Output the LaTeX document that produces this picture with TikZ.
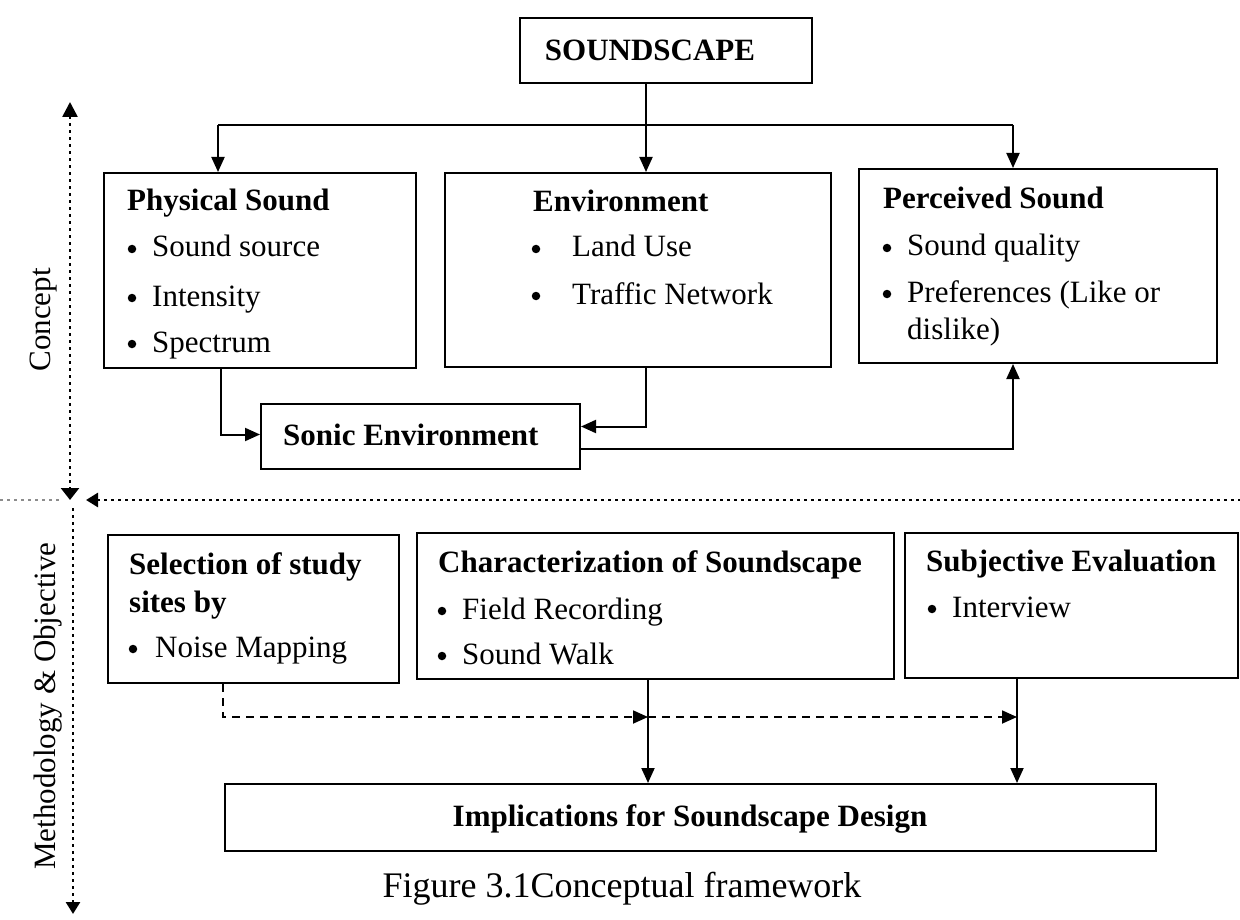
\documentclass[tikz,border=0pt]{standalone}
\usepackage{fontspec}
\setmainfont{Liberation Serif}
\usetikzlibrary{arrows.meta}
% bullet item: name, bullet x, text x, baseline y, text
\newcommand\bitem[5]{%
  \node[dotmark] (#1b) at (#2,#4-8) {};
  \node[txt, anchor=base west] (#1) at (#3,#4) {#5};}
\begin{document}
\begin{tikzpicture}[x=1pt,y=-1pt,
  every node/.style={inner sep=0pt},
  txt/.style={font=\fontsize{31}{37}\selectfont},
  hd/.style={font=\fontsize{31}{37}\selectfont\bfseries},
  dotmark/.style={circle, fill, minimum size=8.5pt},
  box/.style={draw, line width=2pt, anchor=north west},
  conn/.style={line width=2pt},
  tip/.style={-{Triangle[length=15pt,width=13pt]}},
  dotline/.style={line width=2.6pt, dash pattern=on 2.6pt off 4.4pt},
  dashline/.style={line width=1.8pt, dash pattern=on 8pt off 6pt},
]
\useasboundingbox (0,0) rectangle (1240,920);

% ---- boxes
\node[box, minimum width=292pt, minimum height=65pt]  (sc)    at (519,17)  {};
\node[box, minimum width=312pt, minimum height=195pt] (phys)  at (103,172) {};
\node[box, minimum width=386pt, minimum height=194pt] (env)   at (444,172) {};
\node[box, minimum width=358pt, minimum height=194pt] (perc)  at (858,168) {};
\node[box, minimum width=319pt, minimum height=65pt]  (sonic) at (260,403) {};
\node[box, minimum width=291pt, minimum height=148pt] (sel)   at (107,534) {};
\node[box, minimum width=477pt, minimum height=146pt] (char)  at (416,532) {};
\node[box, minimum width=333pt, minimum height=145pt] (subj)  at (904,532) {};
\node[box, minimum width=931pt, minimum height=67pt]  (impl)  at (224,783) {};

% ---- texts
\node[hd, anchor=base] (scT) at (650,61) {SOUNDSCAPE};

\node[hd, anchor=base west] (physT) at (127,211) {Physical Sound};
\bitem{p1}{132}{152}{257}{Sound source}
\bitem{p2}{132}{152}{306}{Intensity}
\bitem{p3}{132}{152}{352}{Spectrum}

\node[hd, anchor=base west] (envT) at (533,212) {Environment};
\bitem{e1}{536}{572}{257}{Land Use}
\bitem{e2}{536}{572}{304}{Traffic Network}

\node[hd, anchor=base west] (percT) at (883,209) {Perceived Sound};
\bitem{q1}{887}{907}{256}{Sound quality}
\bitem{q2}{887}{907}{302}{Preferences (Like or}
\node[txt, anchor=base west] (q3) at (907,339) {dislike)};

\node[hd, anchor=base west] (sonicT) at (283,445) {Sonic Environment};

\node[hd, anchor=base west] (selT1) at (129,574) {Selection of study};
\node[hd, anchor=base west] (selT2) at (129,612) {sites by};
\bitem{s1}{133}{155}{657}{Noise Mapping}

\node[hd, anchor=base west] (charT) at (438,572) {Characterization of Soundscape};
\bitem{c1}{442}{462}{619}{Field Recording}
\bitem{c2}{442}{462}{664}{Sound Walk}

\node[hd, anchor=base west] (subjT) at (926,571) {Subjective Evaluation};
\bitem{j1}{932}{952}{617}{Interview}

\node[hd, anchor=base] (implT) at (690,826) {Implications for Soundscape Design};

% ---- axis labels and caption
\node[txt, rotate=90] (concept) at (44,320) {Concept};
\node[txt, rotate=90] (method) at (48,706) {Methodology \& Objective};
\node[font=\fontsize{36}{42}\selectfont, anchor=base] (cap) at (622,897) {Figure 3.1Conceptual framework};

% ---- concept connectors
\coordinate (busL) at (218,125);
\coordinate (busR) at (1013,125);
\coordinate (xE) at (646,0);
\coordinate (xP) at (221,0);
\draw[conn,tip] (sc.south -| xE) -- (env.north -| xE);
\draw[conn] (busL) -- (busR);
\draw[conn,tip] (busL) -- (phys.north -| busL);
\draw[conn,tip] (busR) -- (perc.north -| busR);
\draw[conn,tip] (phys.south -| xP) |- ([yshift=2pt]sonic.west);
\draw[conn,tip] (env.south -| xE) |- ([yshift=10pt]sonic.east);
\draw[conn,tip] ([yshift=-12pt]sonic.east) -| (perc.south -| busR);

% ---- methodology connectors
\coordinate (xS) at (223,0);
\coordinate (yD) at (0,717);
\coordinate (xC) at (648,0);
\coordinate (xJ) at (1017,0);
\draw[dashline,tip] (sel.south -| xS) |- (xC |- yD);
\draw[dashline,tip] (xC |- yD) -- (xJ |- yD);
\draw[conn,tip] (char.south -| xC) -- (impl.north -| xC);
\draw[conn,tip] (subj.south -| xJ) -- (impl.north -| xJ);

% ---- dotted axes
\coordinate (cTop) at (70,102);
\coordinate (cBot) at (70,500);
\coordinate (hL) at (0,500);
\coordinate (hM) at (60,500);
\coordinate (hA) at (86,500);
\coordinate (hR) at (1240,500);
\coordinate (mTop) at (73,508);
\coordinate (mBot) at (73,914);
\draw[dotline, {Triangle[length=15pt,width=15pt]}-{Triangle[length=12pt,width=18pt]}] (cTop) -- (cBot);
\draw[dotline, black!45] (hL) -- (hM);
\draw[dotline, {Triangle[length=12pt,width=14pt]}-] (hA) -- (hR);
\draw[dotline, -{Triangle[length=12pt,width=14pt]}] (mTop) -- (mBot);
\end{tikzpicture}
\end{document}
